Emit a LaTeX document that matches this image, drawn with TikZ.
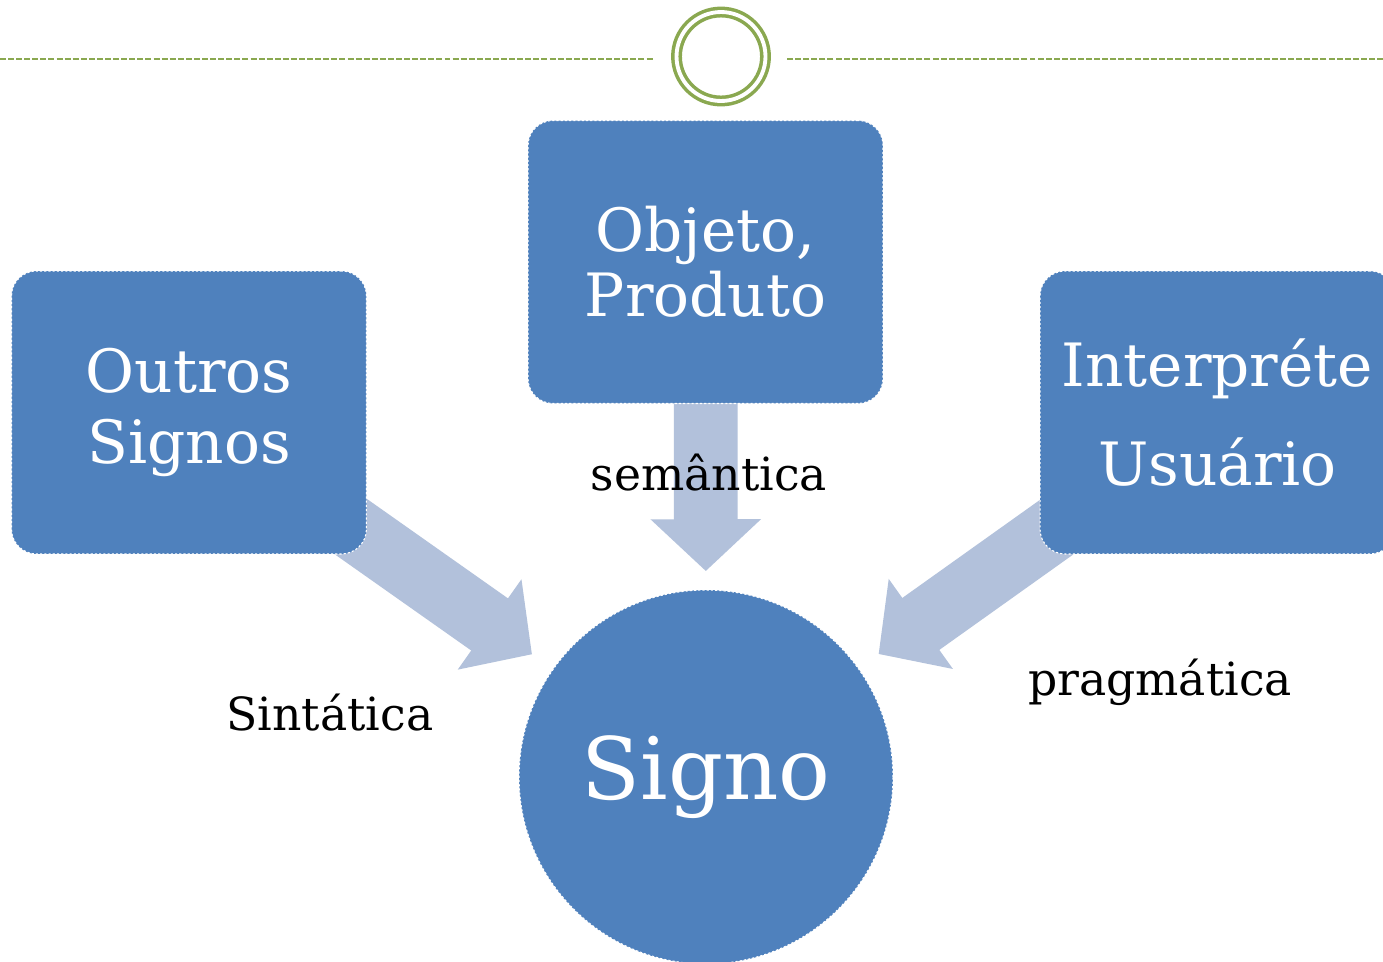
\documentclass[tikz,border=0pt]{standalone}
\usepackage{fontspec}
\setmainfont{DejaVu Serif}
\usetikzlibrary{arrows.meta}
\definecolor{boxblue}{RGB}{79,129,189}
\definecolor{flowblue}{RGB}{178,193,219}
\definecolor{rulegreen}{RGB}{138,168,80}

\begin{document}
\begin{tikzpicture}[x=0.02cm, y=-0.02cm,
	box/.style={draw=white, dash pattern=on 1.2pt off 1.2pt, line width=0.6pt, fill=boxblue, rounded corners=0.5cm, minimum width=7.1cm, minimum height=5.66cm, text=white, align=center, inner sep=0pt},
	flow/.style={draw=flowblue, line width=36.3pt, -{Triangle[length=29.5pt, width=61.2pt]}},
	rule/.style={draw=rulegreen, line width=1pt, dash pattern=on 3.4pt off 1.2pt},
	relname/.style={anchor=base, font=\fontsize{26}{30}\selectfont}]
	\fill[white] (0,0) rectangle (1383,961);
	\useasboundingbox (0,0) rectangle (1383,961);
	\clip (0,0) rectangle (1383,961);
	
	%Kopfzeile
	\node[circle, draw=rulegreen, line width=2pt, double=white, double distance=2.2pt, minimum size=1.78cm, inner sep=0pt] (emblem) at (721, 56.5) {};
	\coordinate (ruleL) at (0, 59);
	\coordinate (ruleR) at (1383, 59);
	\draw[rule, shorten >=0.44cm](ruleL) -- (emblem.west |- ruleL);
	\draw[rule, shorten >=0.4cm](ruleR) -- (emblem.east |- ruleR);
	
	%Pfeile
	\coordinate (outrosC) at (189, 412.5);
	\coordinate (objetoC) at (705.5, 262);
	\coordinate (interpC) at (1217.5, 412.5);
	\coordinate (signoC) at (706, 777);
	\draw[flow, shorten >=4.26cm](outrosC) -- (signoC);
	\draw[flow, shorten >=4.12cm, shorten <=2.84cm](objetoC) -- (signoC);
	\draw[flow, shorten >=4.24cm](interpC) -- (signoC);
	
	%Kaesten
	\node[box, font=\fontsize{34}{40}\selectfont] (outros) at (outrosC) {Outros\\Signos};
	\node[box, font=\fontsize{34}{37}\selectfont] (objeto) at (objetoC) {Objeto,\\Produto};
	\node[box, font=\fontsize{34}{56}\selectfont] (interp) at (interpC) {Interpréte\\Usuário};
	\node[circle, draw=white, dash pattern=on 1.2pt off 1.2pt, line width=0.6pt, fill=boxblue, minimum size=7.48cm, inner sep=0pt, text=white, font=\fontsize{49}{49}\selectfont] (signo) at (signoC) {Signo};
	
	%Beschriftungen
	\node[relname] (sint) at (330, 730) {Sintática};
	\node[relname] (sem) at (709, 490) {semântica};
	\node[relname] (prag) at (1160, 695) {pragmática};
\end{tikzpicture}
\end{document}
